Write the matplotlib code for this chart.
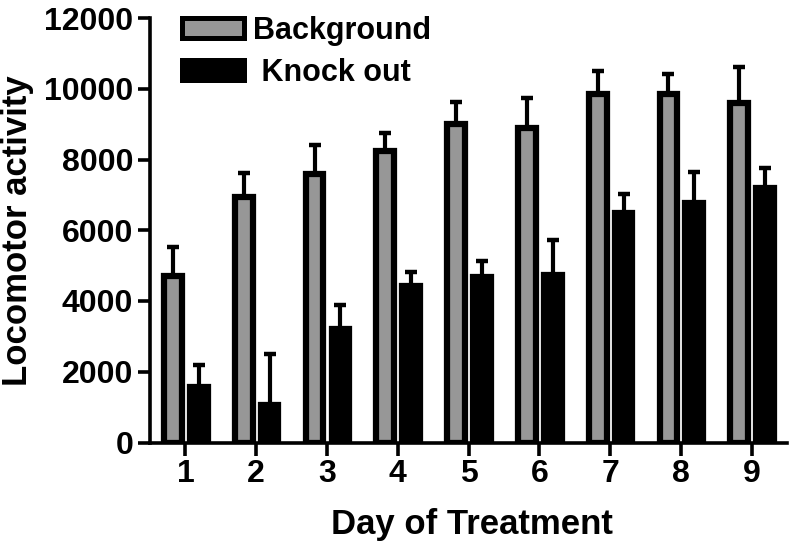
import numpy as np
import matplotlib
matplotlib.use("Agg")
import matplotlib.pyplot as plt
from matplotlib.patches import Patch

plt.rcParams['font.family'] = ['Liberation Sans', 'DejaVu Sans']
plt.rcParams['font.weight'] = 'bold'

days = [1, 2, 3, 4, 5, 6, 7, 8, 9]
background = [4700, 6950, 7600, 8230, 8990, 8900, 9840, 9840, 9600]
background_err = [840, 660, 800, 530, 640, 830, 660, 590, 1020]
knockout = [1560, 1060, 3200, 4430, 4690, 4740, 6490, 6770, 7190]
knockout_err = [620, 1430, 690, 390, 430, 980, 540, 880, 580]
series_labels = ['Background', ' Knock out']
yticks = [0, 2000, 4000, 6000, 8000, 10000, 12000]

W, H = 796, 554
fig = plt.figure(figsize=(W / 100, H / 100), dpi=100)
left, right, bottom, top = 150, 787, 442.5, 18
ax = fig.add_axes([left / W, 1 - bottom / H, (right - left) / W, (bottom - top) / H])

x = np.array(days, dtype=float)
gray = '#979797'
bw = 0.25
lw = 4.5
ekw = dict(elinewidth=3, capsize=4.5, capthick=3.2, ecolor='black')
zeros = [0] * len(days)

ax.bar(x - 0.175, background, width=bw, color=gray, edgecolor='black', linewidth=lw,
       yerr=[zeros, background_err], error_kw=ekw, zorder=2)
ax.bar(x + 0.19, knockout, width=bw, color='black', edgecolor='black', linewidth=lw,
       yerr=[zeros, knockout_err], error_kw=ekw, zorder=2)

ax.set_xlim(0.5, 9.5)
ax.set_ylim(0, 12000)
ax.set_xticks(days)
ax.set_xticklabels([str(d) for d in days])
ax.set_yticks(yticks)
ax.set_yticklabels([str(t) for t in yticks])

for s in ['top', 'right']:
    ax.spines[s].set_visible(False)
for s in ['left', 'bottom']:
    ax.spines[s].set_linewidth(2.6)
    ax.spines[s].set_zorder(5)

ax.tick_params(width=2.6, length=9, pad=3, labelsize=23)
for lab in ax.get_xticklabels() + ax.get_yticklabels():
    lab.set_fontweight('bold')

ax.set_ylabel('Locomotor activity', fontsize=25, fontweight='bold')
ax.set_xlabel('Day of Treatment', fontsize=25, fontweight='bold')
ax.yaxis.set_label_coords((34 - left) / (right - left), 0.5)
ax.xaxis.set_label_coords(0.505, -0.155)

handles = [Patch(facecolor=gray, edgecolor='black', linewidth=3.6),
           Patch(facecolor='black', edgecolor='black', linewidth=3.6)]
ax.legend(handles, series_labels, loc='upper left',
          bbox_to_anchor=(182 / W, 1 - 16 / H), bbox_transform=fig.transFigure,
          frameon=False, borderpad=0, borderaxespad=0,
          handlelength=2.03, handleheight=0.65, handletextpad=0.3,
          labelspacing=0.38, prop={'weight': 'bold', 'size': 22})

fig.savefig('out.png', dpi=100)
